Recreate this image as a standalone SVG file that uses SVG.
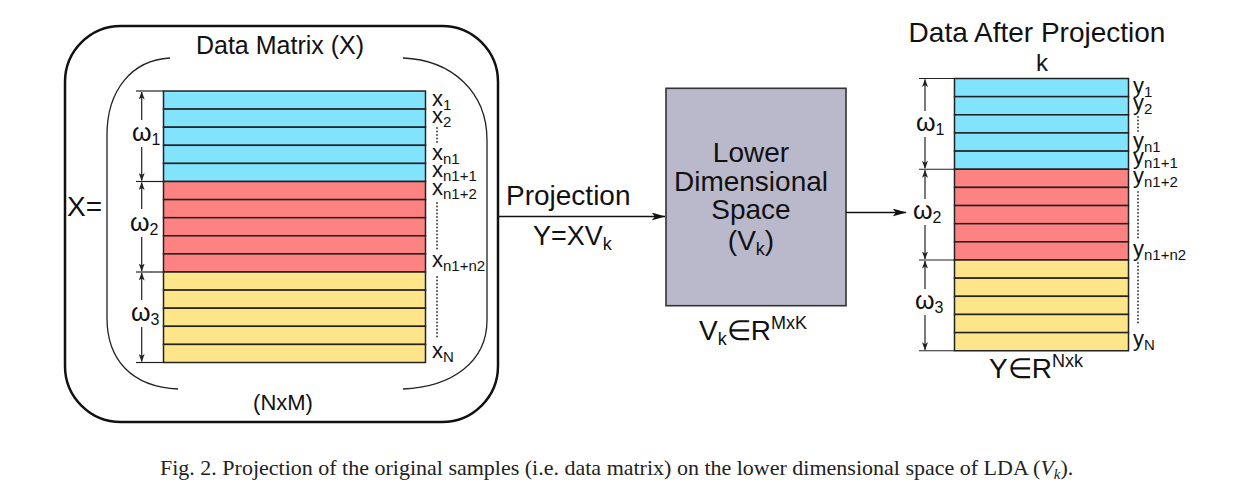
<svg xmlns="http://www.w3.org/2000/svg" width="1250" height="500" viewBox="0 0 1250 500">
<defs>
<style>
.t{font-family:"Liberation Sans",Arial,"DejaVu Sans",sans-serif;fill:#111}
.row{stroke:#222;stroke-width:1.5}
.b{fill:#82e3fc}.r{fill:#fd8282}.yl{fill:#fee58a}
.br{stroke:#222;stroke-width:1.3;fill:none}
.tick{stroke:#222;stroke-width:1.2}
.dots{stroke:#333;stroke-width:1.8;stroke-dasharray:0.1 3.4;stroke-linecap:round;fill:none}
.conn{stroke:#111;stroke-width:1.6;fill:none}
.sub{font-size:15px}
</style>
<marker id="ah" viewBox="0 0 8 6" refX="7.5" refY="3" markerWidth="8" markerHeight="6" markerUnits="userSpaceOnUse" orient="auto-start-reverse">
<path d="M0,0 L8,3 L0,6 L2,3 z" fill="#222"/>
</marker>
<marker id="arr" viewBox="0 0 14 8" refX="13.5" refY="4" markerWidth="14" markerHeight="8" markerUnits="userSpaceOnUse" orient="auto">
<path d="M0,0 L14,4 L0,8 L3.5,4 z" fill="#111"/>
</marker>
</defs>
<rect width="1250" height="500" fill="#fff"/>

<g id="data-matrix">
<rect x="65" y="26" width="433" height="396" rx="56" ry="56" fill="none" stroke="#111" stroke-width="2.5"/>
<path class="br" d="M170 58 C132 60 107 90 107 135 L107 318 C107 360 132 387 178 389"/>
<path class="br" d="M403 58 C452 60 487 92 487 140 L487 320 C487 362 452 387 403 389"/>
<text class="t" x="280" y="54" font-size="25" text-anchor="middle">Data Matrix (X)</text>
<text class="t" x="283" y="410" font-size="22" text-anchor="middle">(NxM)</text>
<text class="t" x="67" y="216" font-size="28">X=</text>
<g>
<rect class="row b" x="163.5" y="91" width="262" height="18.1"/>
<rect class="row b" x="163.5" y="109.1" width="262" height="18.1"/>
<rect class="row b" x="163.5" y="127.2" width="262" height="18.1"/>
<rect class="row b" x="163.5" y="145.3" width="262" height="18.1"/>
<rect class="row b" x="163.5" y="163.4" width="262" height="18.1"/>
<rect class="row r" x="163.5" y="181.5" width="262" height="18.1"/>
<rect class="row r" x="163.5" y="199.6" width="262" height="18.1"/>
<rect class="row r" x="163.5" y="217.7" width="262" height="18.1"/>
<rect class="row r" x="163.5" y="235.8" width="262" height="18.1"/>
<rect class="row r" x="163.5" y="253.9" width="262" height="18.1"/>
<rect class="row yl" x="163.5" y="272" width="262" height="18.1"/>
<rect class="row yl" x="163.5" y="290.1" width="262" height="18.1"/>
<rect class="row yl" x="163.5" y="308.2" width="262" height="18.1"/>
<rect class="row yl" x="163.5" y="326.3" width="262" height="18.1"/>
<rect class="row yl" x="163.5" y="344.4" width="262" height="18.1"/>
</g>
<g>
<line class="tick" x1="136" y1="91" x2="163.5" y2="91"/>
<line class="tick" x1="136" y1="181.5" x2="163.5" y2="181.5"/>
<line class="tick" x1="136" y1="272" x2="163.5" y2="272"/>
<line class="tick" x1="136" y1="362.5" x2="163.5" y2="362.5"/>
<line class="tick" x1="141.7" y1="120" x2="141.7" y2="92" marker-end="url(#ah)"/>
<line class="tick" x1="141.7" y1="147" x2="141.7" y2="180.5" marker-end="url(#ah)"/>
<line class="tick" x1="141.7" y1="209" x2="141.7" y2="182.5" marker-end="url(#ah)"/>
<line class="tick" x1="141.7" y1="237" x2="141.7" y2="271" marker-end="url(#ah)"/>
<line class="tick" x1="141.7" y1="300" x2="141.7" y2="273" marker-end="url(#ah)"/>
<line class="tick" x1="141.7" y1="327" x2="141.7" y2="361.5" marker-end="url(#ah)"/>
<text class="t" x="132" y="141" font-size="25">ω<tspan font-size="16" dy="4">1</tspan></text>
<text class="t" x="130" y="231" font-size="25">ω<tspan font-size="16" dy="4">2</tspan></text>
<text class="t" x="131" y="321" font-size="25">ω<tspan font-size="16" dy="4">3</tspan></text>
</g>
<g font-size="22">
<text class="t" x="432" y="106">x<tspan class="sub" dy="4">1</tspan></text>
<text class="t" x="432" y="123">x<tspan class="sub" dy="4">2</tspan></text>
<text class="t" x="432" y="160">x<tspan class="sub" dy="4">n1</tspan></text>
<text class="t" x="432" y="176.7">x<tspan class="sub" dy="4">n1+1</tspan></text>
<text class="t" x="432" y="195">x<tspan class="sub" dy="4">n1+2</tspan></text>
<text class="t" x="432" y="266.7">x<tspan class="sub" dy="4">n1+n2</tspan></text>
<text class="t" x="432" y="358">x<tspan class="sub" dy="4">N</tspan></text>
<line class="dots" x1="437" y1="128" x2="437" y2="144"/>
<line class="dots" x1="437" y1="203" x2="437" y2="251"/>
<line class="dots" x1="437" y1="277" x2="437" y2="339"/>
</g>
</g>

<g id="lower-space">
<rect x="666" y="88.3" width="180" height="217.4" fill="#bab9cb" stroke="#333" stroke-width="1.6"/>
<g font-size="28" text-anchor="middle">
<text class="t" x="751" y="162">Lower</text>
<text class="t" x="751" y="191">Dimensional</text>
<text class="t" x="751" y="219">Space</text>
<text class="t" x="751" y="250">(V<tspan font-size="18" dy="5">k</tspan><tspan dy="-5">)</tspan></text>
</g>
<text class="t" x="699" y="340" font-size="28">V<tspan font-size="18" dy="5">k</tspan><tspan dy="-5" font-weight="300">∈</tspan><tspan>R</tspan><tspan font-size="18" dy="-11">MxK</tspan></text>
</g>

<g id="projected-data">
<text class="t" x="1037" y="42" font-size="28" text-anchor="middle">Data After Projection</text>
<text class="t" x="1042" y="71" font-size="24" text-anchor="middle">k</text>
<g>
<rect class="row b" x="954.5" y="78.5" width="174" height="18.15"/>
<rect class="row b" x="954.5" y="96.65" width="174" height="18.15"/>
<rect class="row b" x="954.5" y="114.8" width="174" height="18.15"/>
<rect class="row b" x="954.5" y="132.95" width="174" height="18.15"/>
<rect class="row b" x="954.5" y="151.1" width="174" height="18.15"/>
<rect class="row r" x="954.5" y="169.25" width="174" height="18.15"/>
<rect class="row r" x="954.5" y="187.4" width="174" height="18.15"/>
<rect class="row r" x="954.5" y="205.55" width="174" height="18.15"/>
<rect class="row r" x="954.5" y="223.7" width="174" height="18.15"/>
<rect class="row r" x="954.5" y="241.85" width="174" height="18.15"/>
<rect class="row yl" x="954.5" y="260" width="174" height="18.15"/>
<rect class="row yl" x="954.5" y="278.15" width="174" height="18.15"/>
<rect class="row yl" x="954.5" y="296.3" width="174" height="18.15"/>
<rect class="row yl" x="954.5" y="314.45" width="174" height="18.15"/>
<rect class="row yl" x="954.5" y="332.6" width="174" height="18.15"/>
</g>
<g>
<line class="tick" x1="919" y1="78.5" x2="954.5" y2="78.5"/>
<line class="tick" x1="919" y1="169.25" x2="954.5" y2="169.25"/>
<line class="tick" x1="919" y1="260" x2="954.5" y2="260"/>
<line class="tick" x1="919" y1="350.75" x2="954.5" y2="350.75"/>
<line class="tick" x1="925" y1="111" x2="925" y2="79.5" marker-end="url(#ah)"/>
<line class="tick" x1="925" y1="137" x2="925" y2="168.3" marker-end="url(#ah)"/>
<line class="tick" x1="925" y1="199" x2="925" y2="170.2" marker-end="url(#ah)"/>
<line class="tick" x1="925" y1="225" x2="925" y2="259" marker-end="url(#ah)"/>
<line class="tick" x1="925" y1="289" x2="925" y2="261" marker-end="url(#ah)"/>
<line class="tick" x1="925" y1="315" x2="925" y2="349.8" marker-end="url(#ah)"/>
<text class="t" x="916" y="131" font-size="25">ω<tspan font-size="16" dy="4">1</tspan></text>
<text class="t" x="913" y="219" font-size="25">ω<tspan font-size="16" dy="4">2</tspan></text>
<text class="t" x="915" y="309" font-size="25">ω<tspan font-size="16" dy="4">3</tspan></text>
</g>
<g font-size="22">
<text class="t" x="1133" y="92.5">y<tspan class="sub" dy="4">1</tspan></text>
<text class="t" x="1133" y="110">y<tspan class="sub" dy="4">2</tspan></text>
<text class="t" x="1133" y="147.7">y<tspan class="sub" dy="4">n1</tspan></text>
<text class="t" x="1133" y="164">y<tspan class="sub" dy="4">n1+1</tspan></text>
<text class="t" x="1133" y="182.7">y<tspan class="sub" dy="4">n1+2</tspan></text>
<text class="t" x="1133" y="256">y<tspan class="sub" dy="4">n1+n2</tspan></text>
<text class="t" x="1133" y="346">y<tspan class="sub" dy="4">N</tspan></text>
<line class="dots" x1="1138" y1="117" x2="1138" y2="133"/>
<line class="dots" x1="1138" y1="192" x2="1138" y2="241"/>
<line class="dots" x1="1138" y1="263" x2="1138" y2="326"/>
</g>
<text class="t" x="989" y="378" font-size="28">Y<tspan font-weight="300">∈</tspan><tspan>R</tspan><tspan font-size="18" dy="-11">Nxk</tspan></text>
</g>

<g id="connectors">
<line class="conn" x1="498" y1="216.5" x2="665" y2="216.5" marker-end="url(#arr)"/>
<line class="conn" x1="846" y1="212.5" x2="906" y2="212.5" marker-end="url(#arr)"/>
<text class="t" x="506" y="205" font-size="28">Projection</text>
<text class="t" x="533" y="245" font-size="27">Y=XV<tspan font-size="18" dy="5">k</tspan></text>
</g>

<text x="160" y="475" font-family="'Liberation Serif','Times New Roman',serif" font-size="22" fill="#222">Fig. 2. Projection of the original samples (i.e. data matrix) on the lower dimensional space of LDA (<tspan font-style="italic">V</tspan><tspan font-style="italic" font-size="15" dy="4">k</tspan><tspan dy="-4">).</tspan></text>
</svg>
